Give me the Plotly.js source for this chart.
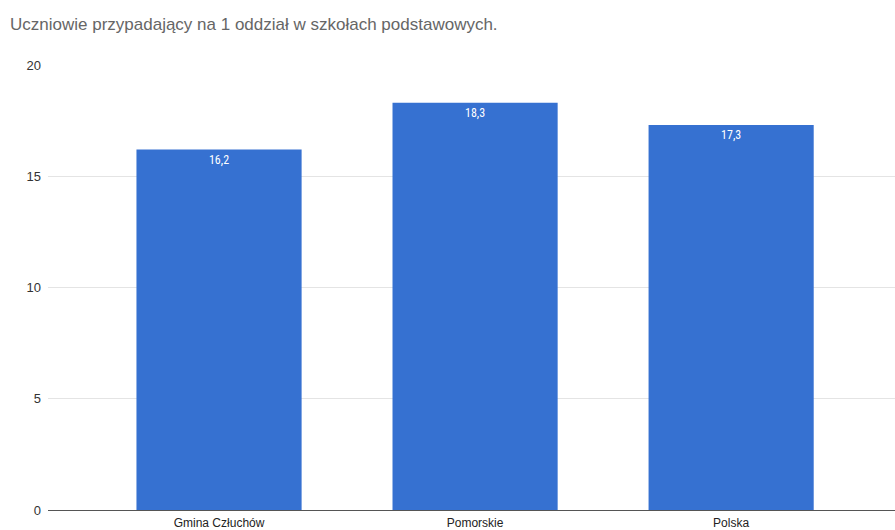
<!DOCTYPE html>
<html>
<head>
<meta charset="utf-8">
<script src="https://cdn.plot.ly/plotly-3.0.1.min.js"></script>
<style>html,body{margin:0;padding:0;background:#fff;}#chart{width:895px;height:530px;}</style>
</head>
<body>
<div id="chart"></div>
<script>
const categories = ["Gmina Człuchów", "Pomorskie", "Polska"];
const values = [16.2, 18.3, 17.3];
const valueLabels = ["16,2", "18,3", "17,3"];
const yTicks = [0, 5, 10, 15, 20];

const trace = {
  type: "bar",
  x: categories,
  y: values,
  text: valueLabels,
  textposition: "inside",
  insidetextanchor: "end",
  textfont: {family: "Liberation Sans Narrow, Roboto Condensed, Arial", size: 12, color: "#ffffff"},
  marker: {color: "#3671d1"},
  hoverinfo: "none",
  cliponaxis: false
};

const layout = {
  width: 895,
  height: 530,
  margin: {l: 48, r: 0, t: 65, b: 20, autoexpand: false},
  paper_bgcolor: "#ffffff",
  plot_bgcolor: "#ffffff",
  bargap: 0.355,
  showlegend: false,
  title: {
    text: "Uczniowie przypadający na 1 oddział w szkołach podstawowych.",
    font: {family: "Liberation Sans, Arial", size: 17, color: "#666666"},
    xref: "container", x: 10/895, xanchor: "left",
    yref: "container", y: 1 - 24/530, yanchor: "middle"
  },
  xaxis: {
    type: "category",
    range: [-0.668, 2.64],
    showgrid: false,
    showline: false,
    zeroline: false,
    ticks: "",
    ticklabelstandoff: 4,
    automargin: false,
    tickfont: {family: "Liberation Sans, Arial", size: 12, color: "#222222"}
  },
  yaxis: {
    range: [0, 20],
    tickvals: yTicks,
    ticktext: yTicks.map(String),
    showgrid: true,
    gridcolor: "#e4e4e4",
    gridwidth: 1,
    zeroline: true,
    zerolinecolor: "#555555",
    zerolinewidth: 1,
    showline: false,
    ticks: "",
    ticklabelstandoff: 6,
    automargin: false,
    tickfont: {family: "Liberation Sans, Arial", size: 13, color: "#333333"}
  }
};

Plotly.newPlot("chart", [trace], layout, {displayModeBar: false, staticPlot: true});
</script>
</body>
</html>
